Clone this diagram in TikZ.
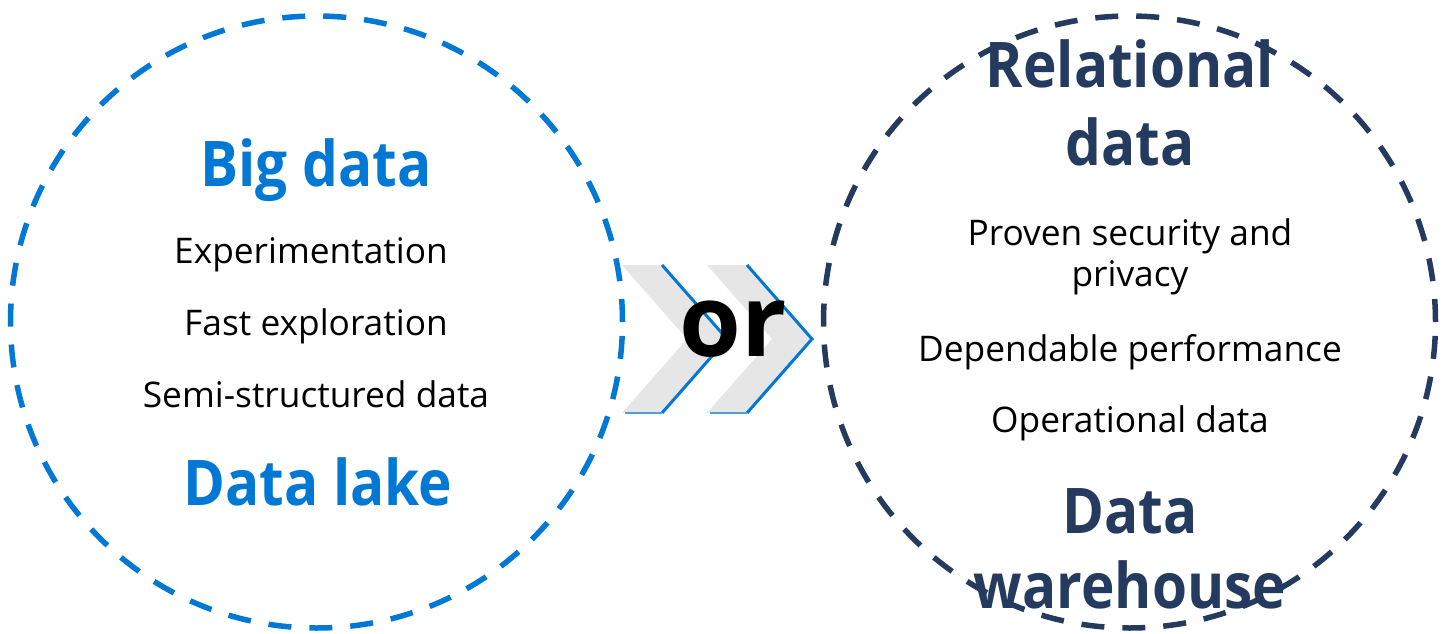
\documentclass[tikz,border=0pt]{standalone}
\usepackage{fontspec}
\setmainfont{Open Sans}
\newfontfamily\headfont[FakeStretch=0.9]{Open Sans}
\definecolor{lakeblue}{HTML}{0078D4}
\definecolor{housenavy}{HTML}{243A5E}
\definecolor{chevgray}{HTML}{E6E6E6}
\begin{document}
\begin{tikzpicture}[x=1pt,y=-1pt,line join=miter,
  title/.style={font=\headfont\fontsize{63}{63}\selectfont\bfseries,anchor=base,inner sep=0pt},
  item/.style={font=\fontsize{35.3}{35}\selectfont,anchor=base,inner sep=0pt},
  ring/.style={circle,draw,line width=5.5pt,dash pattern=on 23pt off 18pt,minimum size=612pt,inner sep=0pt}]
\useasboundingbox (0,0) rectangle (1449,634);
% chevrons
\foreach \dx in {0,85}{
  \fill[chevgray] (622+\dx,265)--(662+\dx,265)--(727+\dx,339)--(662+\dx,413)--(622+\dx,413)--(687+\dx,339)--cycle;
  \draw[lakeblue,line width=3pt] (662+\dx,265)--(727+\dx,339)--(662+\dx,413);
  \draw[lakeblue!70,line width=1.2pt] (625+\dx,413)--(662+\dx,413);
}
\node[font=\fontsize{100}{100}\selectfont\bfseries,anchor=base,inner sep=0pt] (or) at (733,356) {or};
% left
\node[title,lakeblue] (big) at (316,186) {Big data};
\node[item] (exp) at (311,263) {Experimentation};
\node[item] (fast) at (316,335) {Fast exploration};
\node[item] (semi) at (316,407) {Semi-structured data};
\node[title,lakeblue] (lake) at (318,505) {Data lake};
% right
\node[title,housenavy] (rel) at (1130,88) {Relational};
\node[title,housenavy] (reldata) at (1130,165) {data};
\node[item] (sec) at (1130,245) {Proven security and};
\node[item] (priv) at (1130,286) {privacy};
\node[item] (perf) at (1130,361) {Dependable performance};
\node[item] (oper) at (1130,432) {Operational data};
\node[title,housenavy] (wh) at (1130,533) {Data};
\node[title,housenavy] (whb) at (1130,608) {warehouse};
% circles
\node[ring,lakeblue] (lakering) at (316.5,322) {};
\node[ring,housenavy] (housering) at (1129.5,322) {};
\end{tikzpicture}
\end{document}
